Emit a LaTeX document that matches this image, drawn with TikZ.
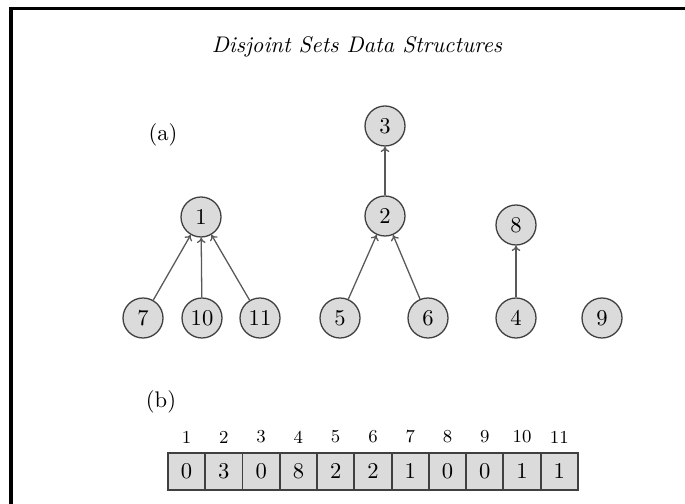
\documentclass[tikz,border=0pt]{standalone}
\usetikzlibrary{arrows.meta}
\begin{document}
\begin{tikzpicture}[x=0.465pt,y=-0.465pt,
  font=\fontsize{10.5pt}{12.5pt}\selectfont,
  elem/.style={circle,draw=black!75,fill=black!14,line width=0.6pt,minimum size=18.6pt,inner sep=0pt},
  link/.style={draw=black!65,line width=0.6pt,-{To[length=2.5pt,width=4pt]}},
  cell/.style={draw=black!75,fill=black!14,line width=0.9pt,minimum width=17.33pt,minimum height=17.2pt,inner sep=0pt,anchor=north west},
  idx/.style={font=\fontsize{8.5pt}{10pt}\selectfont},
  frame/.style={line width=1.4pt,line join=miter}]
\useasboundingbox (0,0) rectangle (685,504);

% outer frame (top and left edges)
\coordinate (frameR) at (685,9);
\coordinate (frameC) at (11,9);
\coordinate (frameB) at (11,504);
\draw[frame] (frameR) -- (frameC) -- (frameB);

% title and part labels
\node (title) at (357,47) {\itshape Disjoint Sets Data Structures};
\node (parta) at (163,135) {(a)};
\node (partb) at (161,402) {(b)};

% (a) the forest of disjoint sets
\node[elem] (n1) at (201,217) {1};
\node[elem] (n7) at (143,318) {7};
\node[elem] (n10) at (202,318) {10};
\node[elem] (n11) at (260,318) {11};
\node[elem] (n3) at (385,126) {3};
\node[elem] (n2) at (385,216) {2};
\node[elem] (n5) at (340,318) {5};
\node[elem] (n6) at (428,318) {6};
\node[elem] (n8) at (516,225) {8};
\node[elem] (n4) at (516,318) {4};
\node[elem] (n9) at (602,318) {9};

\draw[link] (n7) -- (n1);
\draw[link] (n10) -- (n1);
\draw[link] (n11) -- (n1);
\draw[link] (n2) -- (n3);
\draw[link] (n5) -- (n2);
\draw[link] (n6) -- (n2);
\draw[link] (n4) -- (n8);

% (b) the parent array
\foreach \v [count=\i] in {0,3,0,8,2,2,1,0,0,1,1} {
  \node[cell] (c\i) at ({167+(\i-1)*37.27},452) {\v};
  \path (c\i.north) ++(0,-15) node[idx] (i\i) {\i};
}
\end{tikzpicture}
\end{document}
